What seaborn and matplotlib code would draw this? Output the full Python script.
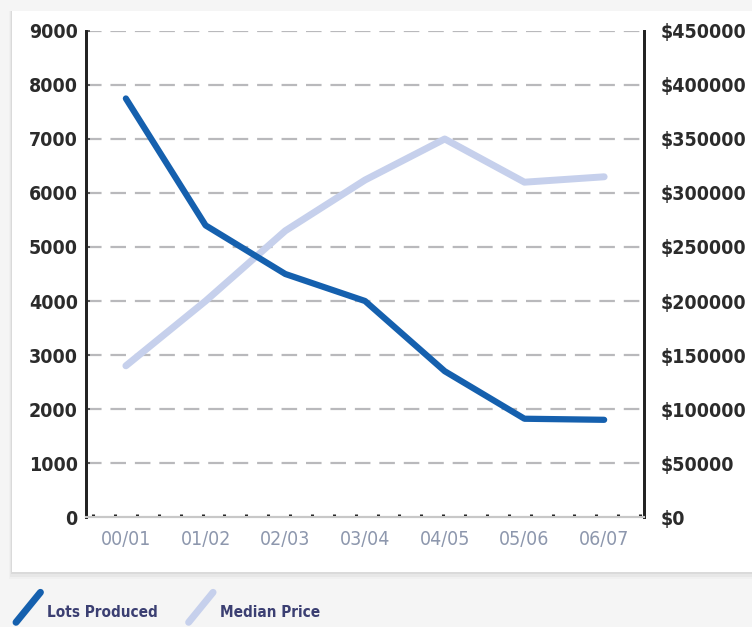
import numpy as np
import pandas as pd
import matplotlib
matplotlib.use("Agg")
import matplotlib.pyplot as plt
import seaborn as sns
from matplotlib.legend_handler import HandlerLine2D
from matplotlib.lines import Line2D
from matplotlib.patches import Rectangle
from matplotlib.ticker import FixedLocator, FuncFormatter
from matplotlib import font_manager

# Data
years = ["00/01", "01/02", "02/03", "03/04", "04/05", "05/06", "06/07"]
lots_produced = [7750, 5400, 4500, 4000, 2700, 1820, 1800]
median_price = [140000, 200000, 265000, 312000, 350000, 310000, 315000]

left_ticks = [0, 1000, 2000, 3000, 4000, 5000, 6000, 7000, 8000, 9000]
right_ticks = [0, 50000, 100000, 150000, 200000, 250000, 300000, 350000, 400000, 450000]

df = pd.DataFrame({"year": years, "lots": lots_produced, "price": median_price})
df["pos"] = np.arange(len(years))

DARK_BLUE = "#1560ae"
LIGHT_BLUE = "#c6d0ec"

sns.set_theme(style="white")
names = {f.name for f in font_manager.fontManager.ttflist}
narrow = [n for n in ["Liberation Sans Narrow", "DejaVu Sans Condensed"] if n in names]
plt.rcParams["font.family"] = narrow + ["DejaVu Sans"]
plt.rcParams["font.stretch"] = "condensed"

fig = plt.figure(figsize=(7.52, 6.27), dpi=100)
fig.patch.set_facecolor("#f5f5f5")

# white card with a soft shadow behind the chart
for i, a in enumerate([0.05, 0.035, 0.02]):
    d = 0.004 * (i + 1)
    fig.add_artist(Rectangle((0.016 - d * 0.3, 0.088 - d), 1.0, 0.894 + d,
                             transform=fig.transFigure, facecolor="#000000", alpha=a,
                             edgecolor="none", zorder=-5))
fig.add_artist(Rectangle((0.016, 0.088), 1.0, 0.894, transform=fig.transFigure,
                         facecolor="white", edgecolor="none", zorder=-4))

ax = fig.add_axes([0.1144, 0.1754, 0.7420, 0.7752])
ax.set_facecolor("none")
ax2 = ax.twinx()
ax2.set_facecolor("none")

sns.lineplot(data=df, x="pos", y="price", ax=ax2, color=LIGHT_BLUE, linewidth=5,
             solid_capstyle="round", solid_joinstyle="round", legend=False)
sns.lineplot(data=df, x="pos", y="lots", ax=ax, color=DARK_BLUE, linewidth=4.5,
             solid_capstyle="round", solid_joinstyle="round", legend=False)
ax.set_zorder(ax2.get_zorder() + 1)

ax.set_xlim(-0.5, 6.5)
ax.set_ylim(0, 9000)
ax2.set_ylim(0, 450000)

ax.set_yticks(left_ticks)
ax2.set_yticks(right_ticks)
ax2.yaxis.set_major_formatter(FuncFormatter(lambda v, p: f"${int(v)}"))
ax.set_xticks(df["pos"])
ax.set_xticklabels(years)
ax.set_xlabel("")
ax.set_ylabel("")
ax2.set_ylabel("")

# dashed horizontal grid
for t in left_ticks[1:]:
    ax2.axhline(t * 50, color="#b9b9bc", linewidth=1.6, dashes=(7, 4), zorder=0)

# dotted baseline ticks
ax.xaxis.set_minor_locator(FixedLocator(np.linspace(-0.41, 6.45, 26)))
ax.tick_params(axis="x", which="minor", bottom=True, length=2.2, width=2.2,
               direction="in", color="#222222")
ax.tick_params(axis="x", which="major", bottom=False, pad=3,
               labelsize=14, labelcolor="#8d97ad")
ax.tick_params(axis="y", which="major", left=True, length=3, width=1.2,
               direction="in", color="#444444", pad=6, labelsize=14, labelcolor="#2b2b2b")
ax2.tick_params(axis="y", right=False, pad=6, labelsize=14, labelcolor="#2b2b2b")
for lab in ax.get_yticklabels() + ax2.get_yticklabels():
    lab.set_fontweight("bold")

for a in (ax, ax2):
    a.spines["top"].set_visible(False)
    a.spines["left"].set_color("#222222")
    a.spines["right"].set_color("#222222")
    a.spines["left"].set_linewidth(2)
    a.spines["right"].set_linewidth(2)
    a.spines["bottom"].set_color("#c8c8c8")
    a.spines["bottom"].set_linewidth(1.5)


class SlantedLine(HandlerLine2D):
    def create_artists(self, legend, orig_handle, xdescent, ydescent, width, height,
                       fontsize, trans):
        line = Line2D([0, width], [-0.3 * height, 1.4 * height],
                      color=orig_handle.get_color(), linewidth=orig_handle.get_linewidth(),
                      solid_capstyle="round")
        line.set_transform(trans)
        return [line]


handles = [Line2D([], [], color=DARK_BLUE, linewidth=5),
           Line2D([], [], color=LIGHT_BLUE, linewidth=5)]
leg = fig.legend(handles, ["Lots Produced", "Median Price"], loc="lower left",
                 bbox_to_anchor=(0.003, -0.012), ncol=2, frameon=False,
                 handler_map={Line2D: SlantedLine()}, handlelength=1.6,
                 handleheight=1.4, handletextpad=0.45, columnspacing=2.0,
                 prop={"size": 11, "weight": "bold"})
for t in leg.get_texts():
    t.set_color("#3b3f72")

fig.savefig("out.png", dpi=100, facecolor=fig.get_facecolor())
